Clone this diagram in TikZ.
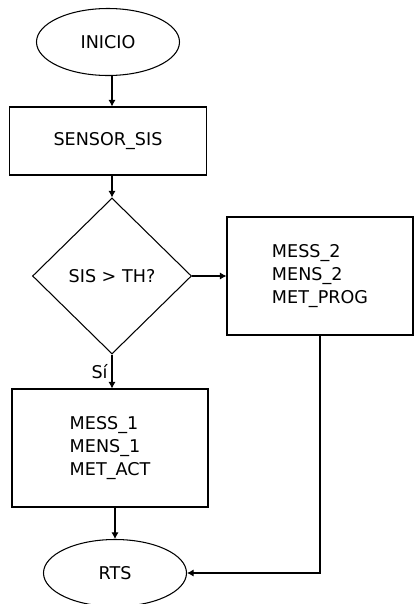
\documentclass[tikz,border=0pt]{standalone}
\usepackage{fontspec}
\setmainfont{DejaVu Sans}
\usetikzlibrary{positioning, arrows.meta, shapes, calc}

\tikzset{
	inicio/.style={draw, ellipse, minimum width=4.29cm, minimum height=2.01cm, inner sep=0pt},
	proceso/.style={draw, rectangle, inner sep=0pt, align=left},
	decision/.style={draw, diamond, aspect=1, minimum width=4.77cm, minimum height=4.68cm, inner sep=0pt},
	flecha/.style={-{Latex[length=2mm, width=2.2mm]}, line width=0.9pt}
}

\begin{document}
\begin{tikzpicture}[x=0.03cm, y=-0.03cm, line width=0.9pt, font=\fontsize{15}{20}\selectfont]
		
		%Frame
		\useasboundingbox (0,0) rectangle (414,604);
		
		%Start
		\node (inicio) at(108,42) [inicio]{INICIO};
		
		%Sensor
		\node (sensor) at(108,141) [proceso, minimum width=5.91cm, minimum height=2.04cm]{SENSOR\_SIS};
		
		%Decision
		\node (decision) at(112,276) [decision]{SIS > TH?};
		
		%Program branch
		\node (prog) at(320,276) [proceso, minimum width=5.58cm, minimum height=3.54cm]{MESS\_2\\MENS\_2\\MET\_PROG};
		
		%Action branch
		\node (act) at(110,448) [proceso, minimum width=5.88cm, minimum height=3.54cm]{MESS\_1\\MENS\_1\\MET\_ACT};
		
		%End
		\node (rts) at(115,573) [inicio]{RTS};
		
		%Links
		\draw[flecha] (inicio.south -| decision.north) -- (sensor.north -| decision.north);
		\draw[flecha] (sensor.south -| decision.north) -- (decision.north);
		\draw[flecha] (decision.east) -- (decision.east -| prog.west);
		\draw[flecha] (decision.south) -- node[left]{Sí} (decision.south |- act.north);
		\draw[flecha] (act.south -| rts.north) -- (rts.north);
		\draw[flecha] (prog.south) |- (rts.east);
		
		\end{tikzpicture}
\end{document}
